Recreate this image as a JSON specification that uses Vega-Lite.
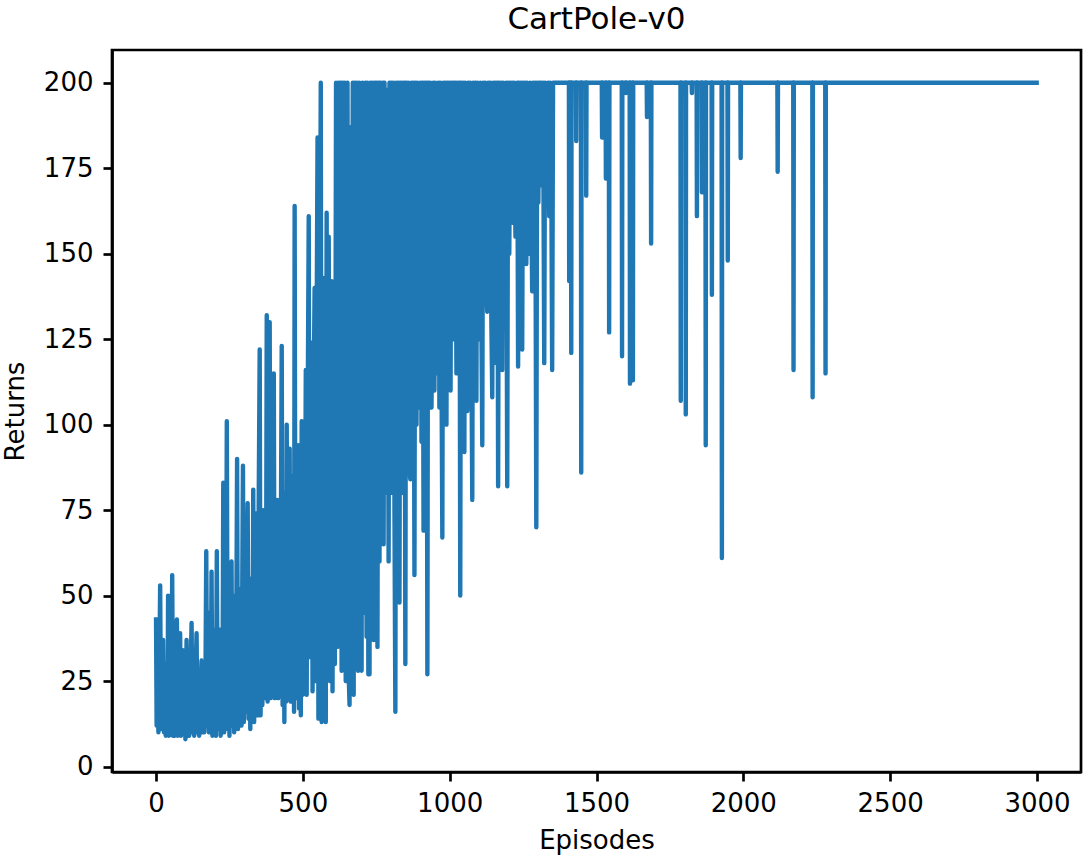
{
"$schema": "https://vega.github.io/schema/vega-lite/v6.json",
"width": 969, "height": 722,
"autosize": "none",
"padding": {"left": 112, "top": 50, "right": 7, "bottom": 84},
"background": "white",
"title": {"text": "CartPole-v0", "font": "DejaVu Sans", "fontSize": 31, "fontWeight": "normal", "color": "black", "offset": 14},
"data": {"values": [
{"e":0,"r":43},{"e":2,"r":12},{"e":5,"r":30},{"e":8,"r":10},{"e":11,"r":25},{"e":14,"r":53},{"e":17,"r":11},{"e":20,"r":28},{"e":24,"r":37},{"e":27,"r":10},{"e":30,"r":22},{"e":33,"r":9},{"e":36,"r":30},{"e":39,"r":11},{"e":41,"r":50},{"e":44,"r":9},{"e":47,"r":26},{"e":50,"r":10},{"e":53,"r":18},{"e":55,"r":56},{"e":58,"r":9},{"e":61,"r":24},{"e":64,"r":9},{"e":67,"r":30},{"e":71,"r":43},{"e":74,"r":9},{"e":77,"r":20},{"e":80,"r":10},{"e":82,"r":39},{"e":85,"r":9},{"e":88,"r":25},{"e":91,"r":34},{"e":94,"r":11},{"e":97,"r":22},{"e":100,"r":8},{"e":104,"r":37},{"e":107,"r":10},{"e":110,"r":27},{"e":113,"r":9},{"e":116,"r":20},{"e":121,"r":42},{"e":124,"r":10},{"e":127,"r":28},{"e":130,"r":9},{"e":134,"r":24},{"e":138,"r":39},{"e":141,"r":10},{"e":144,"r":26},{"e":147,"r":9},{"e":151,"r":22},{"e":155,"r":31},{"e":158,"r":10},{"e":161,"r":25},{"e":164,"r":10},{"e":168,"r":20},
{"e":171,"r":63},{"e":174,"r":12},{"e":177,"r":35},{"e":180,"r":10},{"e":183,"r":45},{"e":186,"r":11},{"e":189,"r":57},{"e":192,"r":9},{"e":195,"r":30},{"e":198,"r":12},{"e":201,"r":40},{"e":204,"r":9},{"e":207,"r":63},{"e":210,"r":11},{"e":213,"r":35},{"e":217,"r":40},{"e":220,"r":9},{"e":223,"r":30},{"e":226,"r":12},{"e":229,"r":83},{"e":232,"r":10},{"e":235,"r":45},{"e":238,"r":14},{"e":241,"r":101},{"e":244,"r":11},{"e":247,"r":50},{"e":250,"r":9},{"e":253,"r":40},{"e":257,"r":60},{"e":260,"r":12},{"e":263,"r":45},{"e":266,"r":10},{"e":269,"r":50},{"e":272,"r":14},{"e":276,"r":90},{"e":279,"r":11},{"e":282,"r":52},{"e":285,"r":15},{"e":288,"r":48},{"e":291,"r":12},{"e":296,"r":88},{"e":299,"r":13},{"e":302,"r":55},{"e":305,"r":16},{"e":308,"r":45},{"e":312,"r":77},{"e":315,"r":14},{"e":318,"r":50},{"e":321,"r":11},{"e":325,"r":55},{"e":328,"r":17},{"e":331,"r":81},{"e":334,"r":13},{"e":337,"r":45},{"e":342,"r":74},{"e":345,"r":15},{"e":348,"r":55},
{"e":353,"r":122},{"e":356,"r":15},{"e":359,"r":60},{"e":362,"r":18},{"e":365,"r":75},{"e":368,"r":20},{"e":371,"r":55},{"e":374,"r":21},{"e":377,"r":132},{"e":380,"r":19},{"e":383,"r":70},{"e":387,"r":130},{"e":390,"r":20},{"e":393,"r":65},{"e":396,"r":22},{"e":399,"r":78},{"e":401,"r":115},{"e":404,"r":20},{"e":407,"r":60},{"e":410,"r":23},{"e":413,"r":78},{"e":416,"r":20},{"e":419,"r":70},{"e":422,"r":24},{"e":425,"r":65},{"e":428,"r":123},{"e":431,"r":18},{"e":434,"r":75},{"e":437,"r":13},{"e":440,"r":80},{"e":443,"r":19},{"e":445,"r":100},{"e":448,"r":22},{"e":451,"r":70},{"e":455,"r":93},{"e":458,"r":19},{"e":461,"r":85},{"e":464,"r":24},{"e":467,"r":70},{"e":470,"r":16},{"e":472,"r":164},{"e":475,"r":20},{"e":478,"r":80},{"e":481,"r":22},{"e":484,"r":94},{"e":487,"r":17},{"e":490,"r":85},{"e":493,"r":15},{"e":496,"r":101},{"e":499,"r":21},{"e":502,"r":90},{"e":505,"r":22},{"e":508,"r":75},{"e":510,"r":116},{"e":513,"r":21},{"e":516,"r":95},{"e":520,"r":161},{"e":523,"r":32},{"e":526,"r":80},{"e":530,"r":124},{"e":533,"r":22},{"e":536,"r":100},{"e":540,"r":140},{"e":543,"r":25},{"e":546,"r":110},{"e":550,"r":184},{"e":553,"r":14},{"e":556,"r":90},{"e":561,"r":200},{"e":564,"r":13},{"e":567,"r":143},{"e":570,"r":60},{"e":574,"r":100},{"e":578,"r":13},{"e":581,"r":162},{"e":584,"r":40},{"e":588,"r":155},{"e":592,"r":25},{"e":598,"r":142},{"e":601,"r":22},{"e":605,"r":124},{"e":609,"r":30},
{"e":613,"r":200},{"e":618,"r":35},{"e":622,"r":200},{"e":625,"r":49},{"e":629,"r":200},{"e":632,"r":28},{"e":636,"r":200},{"e":639,"r":54},{"e":643,"r":200},{"e":646,"r":25},{"e":649,"r":25},{"e":652,"r":200},{"e":655,"r":30},{"e":659,"r":18},{"e":662,"r":187},{"e":666,"r":35},{"e":670,"r":200},{"e":673,"r":21},{"e":677,"r":200},{"e":680,"r":30},{"e":684,"r":200},{"e":688,"r":28},{"e":692,"r":200},{"e":696,"r":40},{"e":700,"r":28},{"e":703,"r":200},{"e":706,"r":45},{"e":710,"r":51},{"e":713,"r":200},{"e":717,"r":38},{"e":720,"r":200},{"e":723,"r":27},{"e":727,"r":27},{"e":730,"r":200},{"e":734,"r":45},{"e":737,"r":200},{"e":741,"r":37},{"e":745,"r":200},{"e":748,"r":50},{"e":751,"r":200},{"e":754,"r":35},{"e":758,"r":200},{"e":761,"r":60},{"e":764,"r":200},{"e":768,"r":92},{"e":772,"r":200},{"e":775,"r":65},{"e":778,"r":200},{"e":781,"r":80},{"e":785,"r":91},{"e":788,"r":198},{"e":792,"r":60},{"e":795,"r":200},{"e":799,"r":80},{"e":802,"r":200},{"e":805,"r":85},{"e":809,"r":200},{"e":812,"r":75},{"e":815,"r":16},{"e":818,"r":200},{"e":822,"r":75},{"e":825,"r":200},{"e":829,"r":48},{"e":832,"r":200},{"e":836,"r":80},{"e":839,"r":200},{"e":842,"r":85},{"e":846,"r":200},{"e":849,"r":30},{"e":852,"r":200},{"e":856,"r":90},{"e":859,"r":200},{"e":862,"r":88},{"e":866,"r":84},{"e":869,"r":200},{"e":873,"r":92},{"e":876,"r":200},{"e":880,"r":56},{"e":883,"r":200},{"e":887,"r":100},{"e":890,"r":200},{"e":894,"r":105},{"e":897,"r":120},{"e":900,"r":200},{"e":904,"r":95},{"e":907,"r":200},{"e":911,"r":69},{"e":914,"r":200},{"e":918,"r":100},{"e":921,"r":200},{"e":924,"r":27},{"e":927,"r":200},{"e":931,"r":110},{"e":934,"r":200},{"e":938,"r":105},{"e":941,"r":135},{"e":944,"r":200},{"e":948,"r":110},{"e":951,"r":200},{"e":955,"r":115},{"e":958,"r":135},{"e":961,"r":200},{"e":965,"r":105},{"e":968,"r":200},{"e":972,"r":120},{"e":975,"r":67},{"e":978,"r":200},{"e":982,"r":115},{"e":985,"r":200},{"e":989,"r":100},{"e":992,"r":200},{"e":996,"r":120},{"e":999,"r":200},{"e":1003,"r":110},{"e":1006,"r":200},{"e":1010,"r":125},{"e":1013,"r":200},{"e":1016,"r":126},{"e":1019,"r":200},{"e":1023,"r":115},{"e":1026,"r":200},{"e":1030,"r":120},{"e":1033,"r":200},{"e":1036,"r":50},{"e":1039,"r":200},{"e":1043,"r":125},{"e":1046,"r":200},{"e":1050,"r":92},{"e":1053,"r":200},{"e":1056,"r":130},{"e":1060,"r":104},{"e":1063,"r":200},{"e":1067,"r":125},{"e":1070,"r":200},{"e":1074,"r":120},{"e":1077,"r":78},{"e":1080,"r":200},{"e":1084,"r":130},{"e":1087,"r":200},{"e":1091,"r":107},{"e":1094,"r":200},{"e":1097,"r":135},{"e":1101,"r":125},{"e":1104,"r":200},{"e":1108,"r":130},{"e":1111,"r":94},{"e":1114,"r":200},{"e":1118,"r":135},{"e":1121,"r":200},{"e":1125,"r":140},{"e":1128,"r":133},{"e":1131,"r":200},{"e":1135,"r":140},{"e":1138,"r":200},{"e":1142,"r":130},{"e":1145,"r":108},{"e":1148,"r":200},{"e":1152,"r":140},{"e":1155,"r":200},{"e":1159,"r":118},{"e":1162,"r":200},{"e":1165,"r":82},{"e":1168,"r":200},{"e":1172,"r":145},{"e":1175,"r":200},{"e":1179,"r":116},{"e":1182,"r":200},{"e":1186,"r":150},{"e":1189,"r":163},{"e":1192,"r":200},{"e":1196,"r":82},{"e":1199,"r":200},{"e":1203,"r":150},{"e":1206,"r":200},{"e":1210,"r":160},{"e":1213,"r":200},{"e":1217,"r":159},{"e":1220,"r":200},{"e":1224,"r":155},{"e":1227,"r":178},{"e":1230,"r":200},{"e":1233,"r":117},{"e":1236,"r":200},{"e":1240,"r":160},{"e":1243,"r":200},{"e":1247,"r":122},{"e":1250,"r":200},{"e":1254,"r":155},{"e":1257,"r":200},{"e":1261,"r":147},{"e":1264,"r":200},{"e":1268,"r":160},{"e":1271,"r":150},{"e":1274,"r":200},{"e":1278,"r":165},{"e":1281,"r":139},{"e":1284,"r":200},{"e":1288,"r":160},{"e":1291,"r":200},{"e":1295,"r":70},{"e":1298,"r":200},{"e":1302,"r":165},{"e":1305,"r":200},{"e":1308,"r":172},{"e":1311,"r":200},{"e":1315,"r":170},{"e":1318,"r":200},{"e":1322,"r":118},{"e":1325,"r":200},{"e":1328,"r":175},{"e":1332,"r":185},{"e":1335,"r":200},{"e":1339,"r":161},{"e":1342,"r":200},{"e":1346,"r":175},{"e":1349,"r":116},{"e":1352,"r":200},
{"e":1406,"r":200},{"e":1407,"r":142},{"e":1408,"r":200},{"e":1413,"r":200},{"e":1414,"r":121},{"e":1415,"r":200},{"e":1430,"r":200},{"e":1431,"r":183},{"e":1432,"r":200},{"e":1447,"r":200},{"e":1448,"r":86},{"e":1449,"r":200},{"e":1464,"r":200},{"e":1465,"r":167},{"e":1466,"r":200},{"e":1518,"r":200},{"e":1519,"r":184},{"e":1520,"r":200},{"e":1531,"r":200},{"e":1532,"r":172},{"e":1533,"r":200},{"e":1542,"r":200},{"e":1543,"r":127},{"e":1544,"r":200},{"e":1586,"r":200},{"e":1587,"r":120},{"e":1588,"r":200},{"e":1599,"r":200},{"e":1600,"r":197},{"e":1601,"r":200},{"e":1613,"r":200},{"e":1614,"r":112},{"e":1615,"r":200},{"e":1623,"r":200},{"e":1624,"r":113},{"e":1625,"r":200},{"e":1671,"r":200},{"e":1672,"r":190},{"e":1673,"r":200},{"e":1685,"r":200},{"e":1686,"r":153},{"e":1687,"r":200},{"e":1786,"r":200},{"e":1787,"r":107},{"e":1788,"r":200},{"e":1803,"r":200},{"e":1804,"r":103},{"e":1805,"r":200},{"e":1824,"r":200},{"e":1825,"r":197},{"e":1826,"r":200},{"e":1841,"r":200},{"e":1842,"r":161},{"e":1843,"r":200},{"e":1858,"r":200},{"e":1859,"r":168},{"e":1860,"r":200},{"e":1871,"r":200},{"e":1872,"r":94},{"e":1873,"r":200},{"e":1892,"r":200},{"e":1893,"r":138},{"e":1894,"r":200},{"e":1926,"r":200},{"e":1927,"r":61},{"e":1928,"r":200},{"e":1946,"r":200},{"e":1947,"r":148},{"e":1948,"r":200},{"e":1990,"r":200},{"e":1991,"r":178},{"e":1992,"r":200},{"e":2116,"r":200},{"e":2117,"r":174},{"e":2118,"r":200},{"e":2170,"r":200},{"e":2171,"r":116},{"e":2172,"r":200},{"e":2235,"r":200},{"e":2236,"r":108},{"e":2237,"r":200},{"e":2279,"r":200},{"e":2280,"r":115},{"e":2281,"r":200},{"e":2999,"r":200}
]},
"mark": {"type": "line", "color": "#1f77b4", "strokeWidth": 4.4, "strokeJoin": "round", "strokeCap": "square"},
"encoding": {
"x": {"field": "e", "type": "quantitative", "title": "Episodes",
 "scale": {"domain": [-150, 3150], "nice": false, "zero": false},
 "axis": {"values": [0, 500, 1000, 1500, 2000, 2500, 3000], "format": "d", "labelFlush": false, "labelOverlap": false, "titlePadding": 11}},
"y": {"field": "r", "type": "quantitative", "title": "Returns",
 "scale": {"domain": [-1.6, 209.6], "nice": false, "zero": false},
 "axis": {"values": [0, 25, 50, 75, 100, 125, 150, 175, 200], "format": "d", "labelFlush": false, "labelOverlap": false, "labelPadding": 10, "titlePadding": 15}}
},
"config": {
"view": {"stroke": "black", "strokeWidth": 2.7},
"axis": {"labelFont": "DejaVu Sans", "titleFont": "DejaVu Sans", "labelFontSize": 26, "titleFontSize": 26, "titleFontWeight": "normal", "labelColor": "black", "titleColor": "black", "domainColor": "black", "domainWidth": 2.7, "tickColor": "black", "tickWidth": 2.7, "tickSize": 9, "grid": false, "labelPadding": 9}
}
}
